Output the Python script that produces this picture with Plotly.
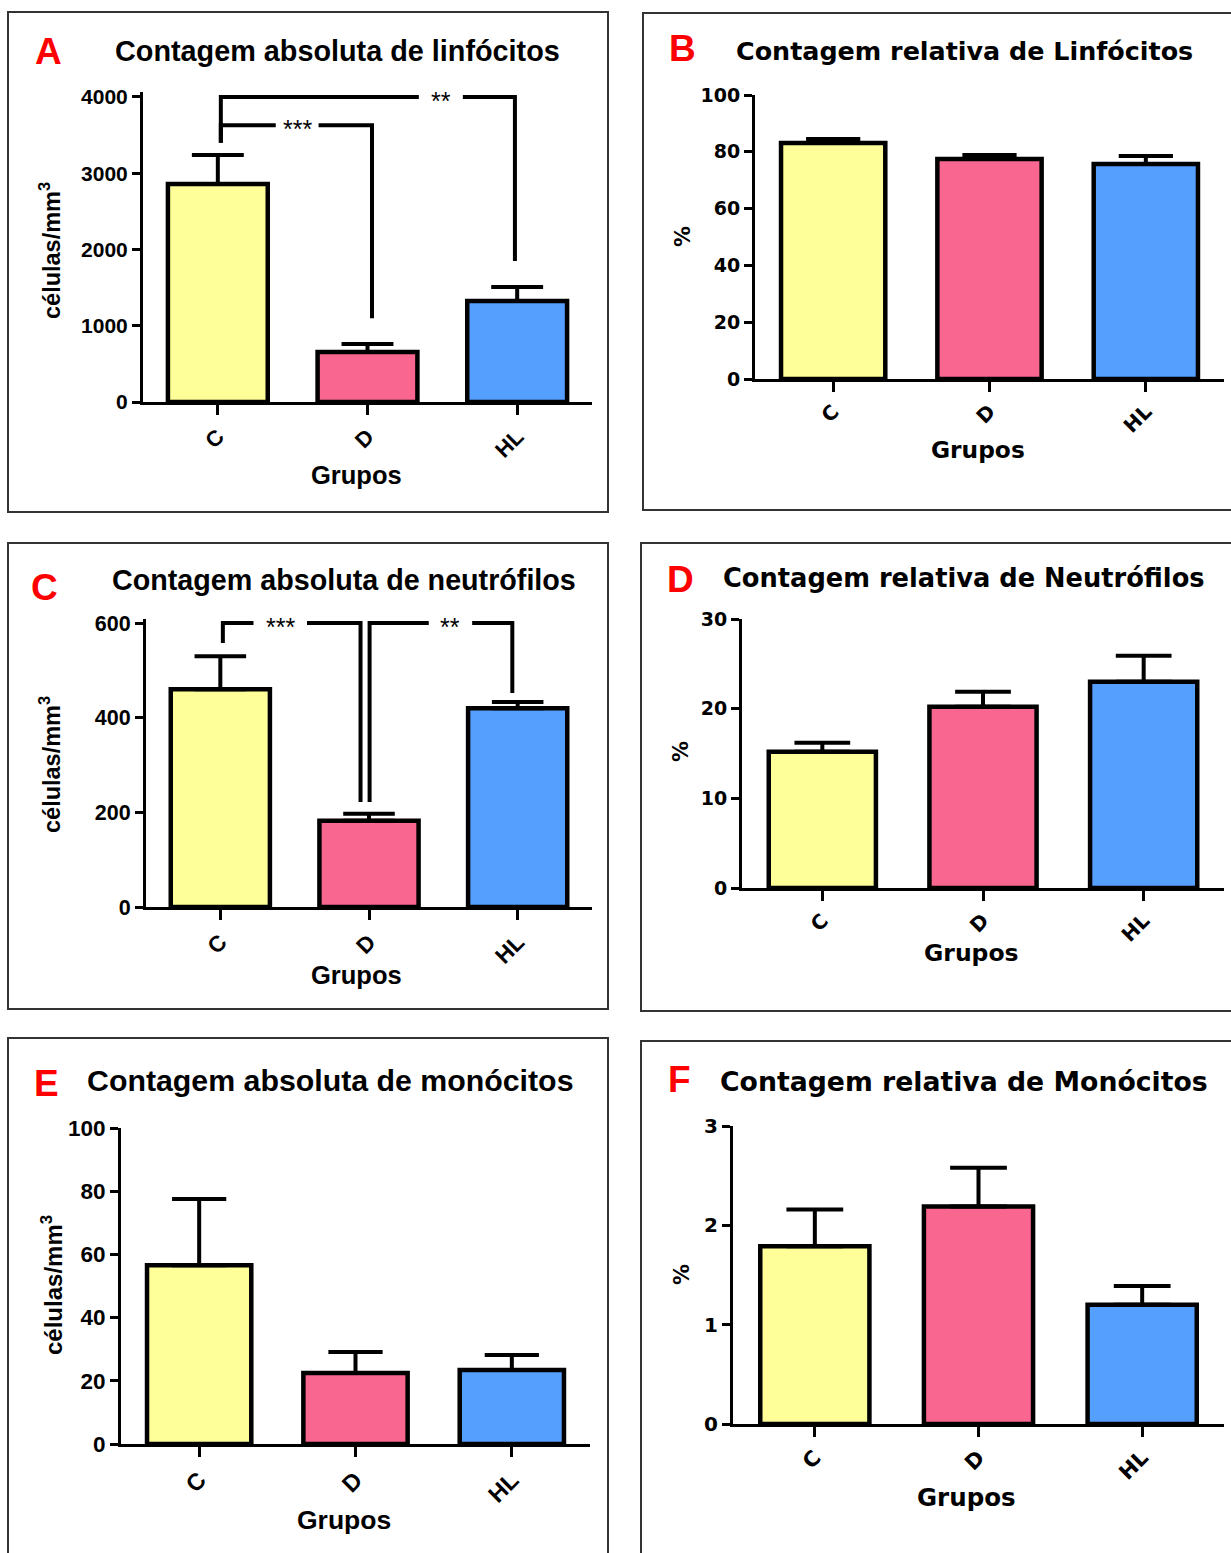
import plotly.graph_objects as go

W, H = 1231, 1553

# ---------------- data ----------------
groups = ["C", "D", "HL"]
bar_colors = ["#FFFF99", "#F96690", "#559FFF"]

linf_abs = [2860, 655, 1325]
linf_abs_sem = [380, 105, 183]
linf_rel = [83.1, 77.5, 75.7]
linf_rel_sem = [1.4, 1.4, 2.8]
neut_abs = [460, 182, 420]
neut_abs_sem = [70, 15, 13]
neut_rel = [15.2, 20.2, 23.0]
neut_rel_sem = [1.0, 1.7, 2.9]
mono_abs = [56.6, 22.5, 23.4]
mono_abs_sem = [20.9, 6.6, 4.8]
mono_rel = [1.79, 2.19, 1.20]
mono_rel_sem = [0.37, 0.39, 0.19]

# significance brackets: (x left, x right, y top, left foot y, right foot y, label, label x, gap half-width)
sig_linf_abs = [
    (0.02, 1.985, 4000, 3400, 1850, "**", 1.49, 0.147),
    (0.02, 1.03, 3630, 3400, 1100, "***", 0.53, 0.143),
]
sig_neut_abs = [
    (0.017, 0.943, 600, 558, 222, "***", 0.403, 0.18),
    (1.004, 1.964, 600, 222, 452, "**", 1.548, 0.146),
]

titles = [
    "Contagem absoluta de linfócitos",
    "Contagem relativa de Linfócitos",
    "Contagem absoluta de neutrófilos",
    "Contagem relativa de Neutrófilos",
    "Contagem absoluta de monócitos",
    "Contagem relativa de Monócitos",
]
letters = ["A", "B", "C", "D", "E", "F"]
abs_ytitle = "células/mm<sup>3</sup>"
rel_ytitle = "%"
xtitle = "Grupos"

ARIAL = "Liberation Sans, Arial, sans-serif"
VERD = "DejaVu Sans, Verdana, sans-serif"

# ---------------- layout config (pixel geometry) ----------------
panels = [
    dict(vals=linf_abs, sem=linf_abs_sem, ymax=4000, dtick=1000, px=(143, 592), py=(402, 97),
         ext=1.015, sig=sig_linf_abs, tfont=ARIAL, tsize=28.8, tickfs=21, ytitle=abs_ytitle,
         letter=(48, 51), title=(337, 51), yt=(50, 251), xt=(356, 475), tfam2=ARIAL, ytfs=23.5, xtfs=25.5,
         box=(8, 12, 608, 512)),
    dict(vals=linf_rel, sem=linf_rel_sem, ymax=100, dtick=20, px=(755, 1224), py=(379, 95),
         ext=1.0, sig=[], tfont=VERD, tsize=25.4, tickfs=19, ytitle=rel_ytitle,
         letter=(682, 49), title=(964, 51), yt=(683, 237), xt=(978, 449), tfam2=VERD, ytfs=21, xtfs=23.3,
         box=(643, 13, 1240, 510)),
    dict(vals=neut_abs, sem=neut_abs_sem, ymax=600, dtick=200, px=(146, 592), py=(907, 623),
         ext=1.015, sig=sig_neut_abs, tfont=ARIAL, tsize=28.7, tickfs=21.5, ytitle=abs_ytitle,
         letter=(44, 587), title=(344, 580), yt=(50, 765), xt=(357, 975), tfam2=ARIAL, ytfs=23.5, xtfs=25.5,
         box=(8, 543, 608, 1009)),
    dict(vals=neut_rel, sem=neut_rel_sem, ymax=30, dtick=10, px=(742, 1224), py=(888, 619),
         ext=1.0, sig=[], tfont=VERD, tsize=25.7, tickfs=19, ytitle=rel_ytitle,
         letter=(680, 579), title=(964, 578), yt=(681, 752), xt=(971, 953), tfam2=VERD, ytfs=21, xtfs=23.5,
         box=(641, 543, 1240, 1011)),
    dict(vals=mono_abs, sem=mono_abs_sem, ymax=100, dtick=20, px=(121, 590), py=(1444, 1128),
         ext=1.0, sig=[], tfont=ARIAL, tsize=30.3, tickfs=22.5, ytitle=abs_ytitle,
         letter=(46, 1083), title=(330, 1080), yt=(52, 1285), xt=(344, 1520), tfam2=ARIAL, ytfs=24, xtfs=26.5,
         box=(8, 1038, 608, 1560)),
    dict(vals=mono_rel, sem=mono_rel_sem, ymax=3, dtick=1, px=(733, 1224), py=(1424, 1126),
         ext=1.0, sig=[], tfont=VERD, tsize=26.7, tickfs=20, ytitle=rel_ytitle,
         letter=(679, 1079), title=(964, 1081), yt=(682, 1275), xt=(966, 1497), tfam2=VERD, ytfs=21, xtfs=24.5,
         box=(641, 1041, 1240, 1560)),
]

fig = go.Figure()
layout = dict(width=W, height=H, margin=dict(l=0, r=0, t=0, b=0, pad=0), autosize=False,
              paper_bgcolor="white", plot_bgcolor="white", showlegend=False)
annotations = []
shapes = []

BAR_W = 0.667
xpos = list(range(len(groups)))

for i, p in enumerate(panels, start=1):
    xa = "x" if i == 1 else f"x{i}"
    ya = "y" if i == 1 else f"y{i}"
    xkey = "xaxis" if i == 1 else f"xaxis{i}"
    ykey = "yaxis" if i == 1 else f"yaxis{i}"

    x0, x1 = p["px"]
    y0px, ymaxpx = p["py"]
    top_px = y0px - (y0px - ymaxpx) * p["ext"]
    unit_px = (x1 - x0) / 3.0
    cap = 0.26 * BAR_W * unit_px

    fig.add_trace(go.Bar(
        x=xpos, y=p["vals"], width=BAR_W, xaxis=xa, yaxis=ya,
        marker=dict(color=bar_colors, line=dict(color="black", width=4.5)),
        error_y=dict(type="data", array=p["sem"], arrayminus=[0] * len(groups), symmetric=False,
                     color="black", thickness=4, width=cap),
        hoverinfo="skip",
    ))

    for (xl, xr, yt, yfl, yfr, lab, lx, gap) in p["sig"]:
        fig.add_trace(go.Scatter(
            x=[xl, xl, lx - gap, None, lx + gap, xr, xr],
            y=[yfl, yt, yt, None, yt, yt, yfr],
            mode="lines", line=dict(color="black", width=4), xaxis=xa, yaxis=ya,
            hoverinfo="skip", cliponaxis=False,
        ))
        annotations.append(dict(x=lx, y=yt, xref=xa, yref=ya, text=lab, showarrow=False,
                                font=dict(family=ARIAL, size=25, color="black"), yshift=-4))

    layout[xkey] = dict(
        domain=[x0 / W, x1 / W], anchor=ya, range=[-0.5, 2.5], automargin=False,
        tickmode="array", tickvals=xpos, ticktext=groups, tickangle=-45,
        showline=True, linecolor="black", linewidth=3, ticks="outside", ticklen=10, tickwidth=3,
        tickcolor="black", showgrid=False, zeroline=False,
        tickfont=dict(family=p["tfam2"], size=p["tickfs"] + 1, color="black", weight="bold"),
    )
    layout[ykey] = dict(
        domain=[1 - y0px / H, 1 - top_px / H], anchor=xa, automargin=False,
        range=[0, p["ymax"] * p["ext"]], tickmode="linear", tick0=0, dtick=p["dtick"],
        showline=True, linecolor="black", linewidth=3, ticks="outside", ticklen=8, tickwidth=3,
        tickcolor="black", showgrid=False, zeroline=False,
        tickfont=dict(family=p["tfam2"], size=p["tickfs"], color="black", weight="bold"),
    )

    # panel letter and title
    annotations.append(dict(x=p["letter"][0] / W, y=1 - p["letter"][1] / H, xref="paper", yref="paper",
                            text=f"<b>{letters[i-1]}</b>", showarrow=False, xanchor="center", yanchor="middle",
                            font=dict(family=ARIAL, size=37, color="#FF0000")))
    annotations.append(dict(x=p["title"][0] / W, y=1 - p["title"][1] / H, xref="paper", yref="paper",
                            text=f"<b>{titles[i-1]}</b>", showarrow=False, xanchor="center", yanchor="middle",
                            font=dict(family=p["tfont"], size=p["tsize"], color="black")))
    # axis titles
    annotations.append(dict(x=p["yt"][0] / W, y=1 - p["yt"][1] / H, xref="paper", yref="paper",
                            text=f"<b>{p['ytitle']}</b>", showarrow=False, textangle=-90,
                            xanchor="center", yanchor="middle",
                            font=dict(family=p["tfam2"], size=p["ytfs"], color="black")))
    annotations.append(dict(x=p["xt"][0] / W, y=1 - p["xt"][1] / H, xref="paper", yref="paper",
                            text=f"<b>{xtitle}</b>", showarrow=False, xanchor="center", yanchor="middle",
                            font=dict(family=p["tfam2"], size=p["xtfs"], color="black")))
    bx0, by0, bx1, by1 = p["box"]
    shapes.append(dict(type="rect", xref="paper", yref="paper",
                       x0=bx0 / W, x1=bx1 / W, y0=1 - by1 / H, y1=1 - by0 / H,
                       line=dict(color="#333333", width=2), fillcolor="rgba(0,0,0,0)", layer="below"))

layout["annotations"] = annotations
layout["shapes"] = shapes
fig.update_layout(**layout)

fig.write_html("out.html", config={"displayModeBar": False},
               post_script="document.body.style.margin='0';document.body.style.overflow='hidden';")
